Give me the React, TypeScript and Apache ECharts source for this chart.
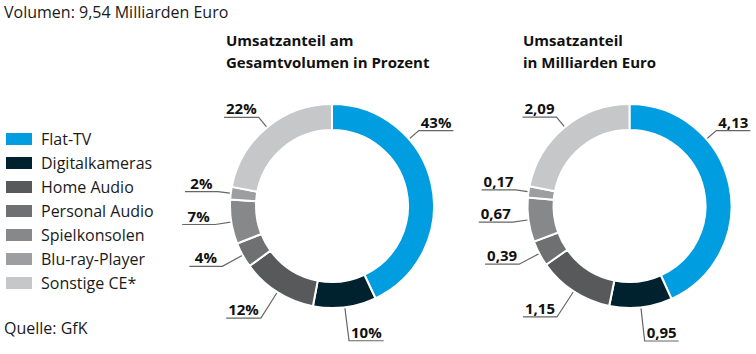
import React, { useEffect, useRef } from "react";
import * as echarts from "echarts";

const categories = [
  "Flat-TV",
  "Digitalkameras",
  "Home Audio",
  "Personal Audio",
  "Spielkonsolen",
  "Blu-ray-Player",
  "Sonstige CE*",
];
const shareValues = [43, 10, 12, 4, 7, 2, 22];
const revenueValues = [4.13, 0.95, 1.15, 0.39, 0.67, 0.17, 2.09];
const colors = ["#009EE0", "#00222E", "#58595B", "#6F7072", "#87888A", "#9D9EA0", "#C6C7C9"];
const volumeText = "Volumen: 9,54 Milliarden Euro";
const sourceText = "Quelle: GfK";
const leftTitle = "Umsatzanteil am\nGesamtvolumen in Prozent";
const rightTitle = "Umsatzanteil\nin Milliarden Euro";

const FONT = "'Open Sans', 'Noto Sans', sans-serif";
const CY = 206;
const LEFT_CX = 332;
const RIGHT_CX = 629.5;
const R_OUT = 102;
const R_IN = 76;
// leader anchor for the big first slice (degrees clockwise from top)
const FIRST_ANCHOR_DEG = 49;

function makeLayout(cx: number) {
  return (params: any) => {
    const pts = params.labelLinePoints;
    if (!pts || !pts[0]) return {};
    let ang = Math.atan2(pts[0][1] - CY, pts[0][0] - cx);
    if (params.dataIndex === 0) ang = ((FIRST_ANCHOR_DEG - 90) * Math.PI) / 180;
    const dx = Math.cos(ang);
    const dy = Math.sin(ang);
    const r = R_OUT - 1;
    const p0 = [cx + dx * r, CY + dy * r];
    const L = 14 + 21 * Math.max(0, dy);
    const knee = [p0[0] + dx * L, p0[1] + dy * L];
    const w = params.labelRect ? params.labelRect.width : 30;
    const seg = Math.max(w + 4, 33);
    const dir = dx >= 0 ? 1 : -1;
    const end = [knee[0] + dir * seg, knee[1]];
    return {
      x: (knee[0] + end[0]) / 2,
      y: knee[1] - 1,
      align: "center",
      verticalAlign: "bottom",
      labelLinePoints: [p0, knee, end],
    };
  };
}

function pieSeries(name: string, values: number[], cx: number, fmt: (v: number) => string) {
  return {
    type: "pie",
    name,
    center: [cx, CY],
    radius: [R_IN, R_OUT],
    startAngle: 90,
    clockwise: true,
    avoidLabelOverlap: false,
    silent: true,
    itemStyle: { borderColor: "#ffffff", borderWidth: 2 },
    label: {
      show: true,
      position: "outside",
      formatter: (p: any) => fmt(p.value),
      fontFamily: FONT,
      fontSize: 15,
      fontWeight: "bold",
      color: "#111111",
      lineHeight: 16,
    },
    labelLine: { show: true, length: 14, length2: 2, lineStyle: { color: "#666666", width: 1.2 } },
    labelLayout: makeLayout(cx),
    data: categories.map((c, i) => ({ name: c, value: values[i], itemStyle: { color: colors[i] } })),
  };
}

export default function App() {
  const ref = useRef<HTMLDivElement>(null);
  useEffect(() => {
    document.body.style.margin = "0";
    if (!ref.current) return;
    const chart = echarts.init(ref.current, undefined, { renderer: "svg" });
    chart.setOption({
      animation: false,
      backgroundColor: "#ffffff",
      color: colors,
      title: [
        {
          text: volumeText,
          left: 4,
          top: 2,
          padding: 0,
          textStyle: { fontFamily: FONT, fontSize: 16, fontWeight: "normal", color: "#1a1a1a", lineHeight: 20 },
        },
        {
          text: leftTitle,
          left: 226,
          top: 29,
          padding: 0,
          textStyle: { fontFamily: FONT, fontSize: 15, fontWeight: "bold", color: "#111111", lineHeight: 22 },
        },
        {
          text: rightTitle,
          left: 523,
          top: 29,
          padding: 0,
          textStyle: { fontFamily: FONT, fontSize: 15, fontWeight: "bold", color: "#111111", lineHeight: 22 },
        },
        {
          text: sourceText,
          left: 4,
          top: 318,
          padding: 0,
          textStyle: { fontFamily: FONT, fontSize: 16, fontWeight: "normal", color: "#1a1a1a", lineHeight: 20 },
        },
      ],
      legend: {
        orient: "vertical",
        left: 6,
        top: 131,
        itemWidth: 26,
        itemHeight: 12,
        itemGap: 8,
        icon: "rect",
        selectedMode: false,
        padding: 0,
        itemStyle: { borderWidth: 0 },
        textStyle: { fontFamily: FONT, fontSize: 16, color: "#1a1a1a", lineHeight: 14, padding: [0, 0, 0, 4] },
        data: categories,
      },
      series: [
        pieSeries("Prozent", shareValues, LEFT_CX, (v) => `${v}%`),
        pieSeries("Milliarden", revenueValues, RIGHT_CX, (v) => v.toFixed(2).replace(".", ",")),
      ],
    });
    return () => chart.dispose();
  }, []);
  return <div ref={ref} style={{ width: 756, height: 354 }} />;
}
